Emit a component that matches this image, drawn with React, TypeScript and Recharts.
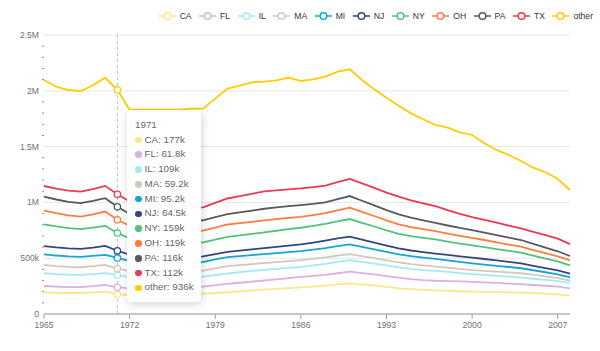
import React from "react";
import { AreaChart, Area, XAxis, YAxis, CartesianGrid, Tooltip } from "recharts";

const years = [
  1965, 1966, 1967, 1968, 1969, 1970, 1971, 1972, 1973, 1974, 1975, 1976, 1977, 1978, 1979,
  1980, 1981, 1982, 1983, 1984, 1985, 1986, 1987, 1988, 1989, 1990, 1991, 1992, 1993, 1994,
  1995, 1996, 1997, 1998, 1999, 2000, 2001, 2002, 2003, 2004, 2005, 2006, 2007, 2008,
];

// values in thousands
const CA = [194, 190, 188, 188, 194, 200, 177, 170, 168, 170, 172, 175, 178, 182, 188, 194, 202, 210, 218, 225, 232, 239, 246, 254, 265, 275, 266, 256, 243, 230, 222, 216, 212, 208, 204, 200, 198, 196, 194, 191, 187, 182, 176, 164];
const FL = [57, 55, 53, 52, 56, 60, 61.8, 60, 60, 61, 61, 62, 62, 64, 70, 76, 78, 80, 82, 86, 90, 93, 95, 97, 100, 104, 101, 99, 97, 95, 91, 88, 86, 87, 88, 88, 85, 82, 79, 76, 73, 71, 69, 66];
const IL = [114, 112, 111, 110, 108, 106, 109, 100, 95, 92, 90, 89, 89, 89, 91, 93, 95, 96, 96, 94, 92, 91, 95, 99, 102, 104, 100, 97, 95, 93, 91, 90, 88, 82, 75, 70, 67, 64, 61, 59, 56, 53, 50, 48];
const MA = [74, 72, 70, 69, 71, 74, 59.2, 55, 52, 51, 51, 51, 52, 53, 60, 66, 63, 61, 60, 60, 60, 60, 58, 57, 56, 54, 51, 48, 46, 45, 43, 41, 39, 38, 37, 36, 37, 38, 39, 39, 36, 32, 27, 21];
const MI = [96, 95, 94, 93, 91, 90, 95.2, 88, 84, 81, 80, 79, 78, 78, 80, 81, 81, 81, 81, 81, 81, 81, 82, 83, 85, 87, 83, 79, 75, 72, 71, 70, 69, 66, 63, 60, 56, 52, 48, 45, 40, 36, 33, 30];
const NJ = [74, 73, 72, 71, 75, 80, 64.5, 60, 56, 54, 53, 52, 51, 51, 48, 46, 48, 51, 53, 56, 58, 60, 64, 68, 69, 69, 65, 61, 57, 53, 51, 49, 47, 48, 50, 51, 50, 48, 46, 44, 40, 37, 35, 32];
const NY = [195, 188, 181, 177, 178, 180, 159, 145, 135, 130, 127, 125, 125, 125, 130, 135, 137, 139, 141, 144, 147, 149, 149, 149, 153, 158, 151, 144, 136, 129, 128, 128, 127, 120, 114, 110, 106, 102, 98, 95, 90, 86, 81, 74];
const OH = [122, 118, 115, 113, 120, 128, 119, 113, 109, 107, 106, 105, 105, 105, 108, 111, 110, 108, 107, 104, 101, 98, 97, 96, 99, 102, 98, 94, 90, 87, 82, 78, 74, 72, 70, 68, 64, 60, 57, 54, 51, 48, 46, 45];
const PA = [125, 123, 121, 120, 120, 120, 116, 105, 98, 95, 94, 93, 93, 93, 92, 92, 96, 100, 105, 105, 105, 105, 101, 98, 101, 104, 100, 96, 92, 89, 84, 79, 75, 72, 70, 69, 67, 65, 62, 60, 55, 50, 45, 40];
const TX = [96, 98, 101, 104, 107, 110, 112, 112, 113, 114, 114, 115, 115, 116, 128, 141, 146, 151, 155, 153, 151, 149, 150, 150, 151, 153, 155, 156, 157, 158, 156, 153, 150, 138, 127, 116, 113, 111, 108, 105, 108, 111, 114, 106];
const other = [950, 913, 901, 901, 930, 969, 936, 822, 860, 875, 882, 884, 892, 884, 935, 985, 990, 999, 984, 986, 1000, 963, 966, 976, 990, 983, 927, 883, 850, 816, 779, 753, 727, 739, 730, 736, 687, 652, 633, 603, 575, 564, 534, 485];

const names = ["CA", "FL", "IL", "MA", "MI", "NJ", "NY", "OH", "PA", "TX", "other"];
const colors = ["#fde68a", "#d8b2e4", "#a5e9ee", "#d5c7bb", "#16a5d6", "#35457f", "#50c37c", "#ff7d3d", "#595959", "#ea3a52", "#ffcc00"];
const seriesValues = [CA, FL, IL, MA, MI, NJ, NY, OH, PA, TX, other];

const xTicks = [1965, 1972, 1979, 1986, 1993, 2000, 2007];
const yMajor = [0, 500, 1000, 1500, 2000, 2500];
const yAll = Array.from({ length: 26 }, (_, i) => i * 100);

const data = years.map((year, i) => {
  const row: Record<string, number> = { year };
  names.forEach((n, k) => (row[n] = seriesValues[k][i]));
  return row;
});

const font = "'Liberation Sans', Arial, sans-serif";

function fmtY(v: number) {
  if (v === 0) return "0";
  if (v >= 1000) return `${v / 1000}M`;
  return `${v}k`;
}

function fmtTip(v: number) {
  return `${Number(v.toPrecision(3))}k`;
}

function YTick(props: any) {
  const { x, y, payload } = props;
  if (payload.value % 500 === 0) {
    return (
      <text x={x} y={y} dy="0.35em" textAnchor="end" fill="#6e7079" fontSize={8.6} fontFamily={font}>
        {fmtY(payload.value)}
      </text>
    );
  }
  return <line x1={x + 3} x2={x + 5} y1={y} y2={y} stroke="#8a8c94" />;
}

function TipBox({ active, payload, label }: any) {
  if (!active || !payload || !payload.length) return null;
  return (
    <div
      style={{
        background: "#fff",
        borderRadius: 4,
        boxShadow: "1px 2px 8px rgba(0,0,0,0.18)",
        padding: "8px 7px 7px 8px",
        fontFamily: font,
        fontSize: 9.8,
        color: "#666",
        width: 59,
      }}
    >
      <div style={{ lineHeight: "14.5px" }}>{label}</div>
      {payload.map((p: any) => (
        <div key={p.dataKey} style={{ lineHeight: "14.8px", whiteSpace: "nowrap", display: "flex", alignItems: "center" }}>
          <span
            style={{
              display: "inline-block",
              width: 6.5,
              height: 6.5,
              borderRadius: "50%",
              background: p.color,
              marginRight: 3,
            }}
          />
          {p.name}: {fmtTip(p.payload[p.dataKey])}
        </div>
      ))}
    </div>
  );
}

function LegendRow() {
  return (
    <div
      style={{
        position: "absolute",
        top: 10,
        right: 7,
        display: "flex",
        gap: 7.5,
        fontFamily: font,
        fontSize: 8.6,
        color: "#333",
        lineHeight: "12px",
      }}
    >
      {names.map((n, i) => (
        <div key={n} style={{ display: "flex", alignItems: "center" }}>
          <svg width={17} height={10} style={{ marginRight: 4 }}>
            <line x1={0} x2={17} y1={5} y2={5} stroke={colors[i]} strokeWidth={1.5} />
            <circle cx={8.5} cy={5} r={3.3} fill="#fff" stroke={colors[i]} strokeWidth={1.5} />
          </svg>
          <span>{n}</span>
        </div>
      ))}
    </div>
  );
}

export default function App() {
  return (
    <div style={{ position: "relative", width: 600, height: 351, background: "#fff" }}>
      <style>{`body{margin:0}`}</style>
      <AreaChart width={600} height={351} data={data} margin={{ top: 35, right: 30, left: 0, bottom: 7 }}>
        <CartesianGrid vertical={false} stroke="#e0e6f1" horizontalValues={yMajor} />
        <XAxis
          dataKey="year"
          type="number"
          domain={[1965, 2008]}
          ticks={xTicks}
          interval={0}
          tickSize={5}
          tickMargin={3}
          axisLine={{ stroke: "#9a9ca3" }}
          tickLine={{ stroke: "#9a9ca3" }}
          tick={{ fill: "#6e7079", fontSize: 8.6, fontFamily: font }}
        />
        <YAxis
          type="number"
          domain={[0, 2500]}
          ticks={yAll}
          interval={0}
          width={44}
          tickSize={0}
          tickMargin={5}
          axisLine={false}
          tickLine={false}
          tick={<YTick />}
        />
        <Tooltip
          content={<TipBox />}
          defaultIndex={6}
          position={{ x: 127, y: 110 }}
          isAnimationActive={false}
          cursor={{ stroke: "#b9bcc6", strokeDasharray: "3 3", strokeWidth: 1 }}
        />
        {names.map((n, i) => (
          <Area
            key={n}
            type="linear"
            dataKey={n}
            name={n}
            stackId="s"
            stroke={colors[i]}
            strokeWidth={1.8}
            fill="none"
            fillOpacity={0}
            dot={false}
            activeDot={{ r: 3.2, fill: "#fff", stroke: colors[i], strokeWidth: 1.3 }}
            isAnimationActive={false}
          />
        ))}
      </AreaChart>
      <LegendRow />
    </div>
  );
}
